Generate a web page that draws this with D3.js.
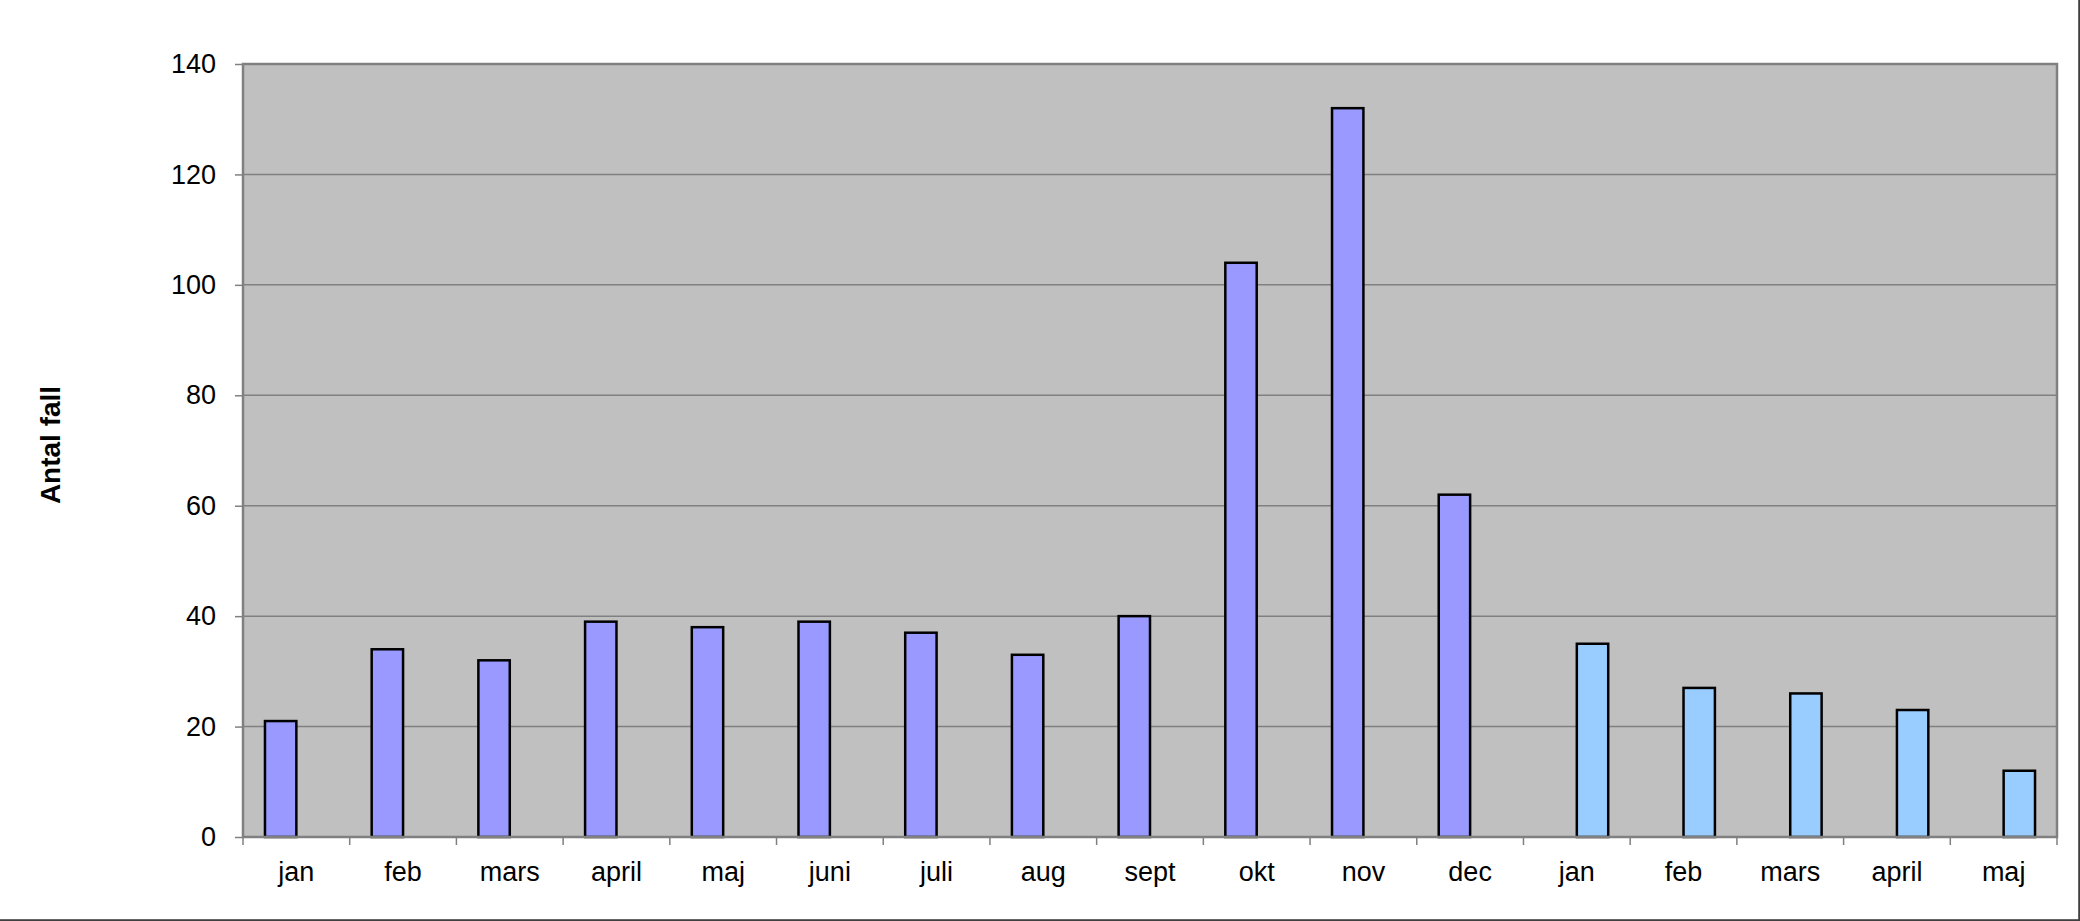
<!DOCTYPE html>
<html>
<head>
<meta charset="utf-8">
<script src="https://cdn.jsdelivr.net/npm/d3@7"></script>
<style>
  html, body { margin: 0; padding: 0; background: #fff; }
  svg { display: block; }
  text { font-family: "Liberation Sans", Arial, sans-serif; fill: #000; }
</style>
</head>
<body>
<script>
// ---- Data ----
const categories = ["jan","feb","mars","april","maj","juni","juli","aug","sept","okt","nov","dec","jan","feb","mars","april","maj"];
const series1 = [21, 34, 32, 39, 38, 39, 37, 33, 40, 104, 132, 62, null, null, null, null, null];
const series2 = [null, null, null, null, null, null, null, null, null, null, null, null, 35, 27, 26, 23, 12];
const yTicks = [0, 20, 40, 60, 80, 100, 120, 140];
const yTitle = "Antal fall";
const seriesNames = ["s1", "s2"];
const seriesColors = ["#9999FF", "#99CCFF"];

// ---- Layout ----
const W = 2080, H = 921;
const plot = { left: 243, right: 2057, top: 64, bottom: 837 };

const svg = d3.select("body").append("svg").attr("width", W).attr("height", H);

// Outer frame
svg.append("rect").attr("x", -2).attr("y", -2).attr("width", W + 1.2).attr("height", H + 1.2)
  .attr("fill", "none").attr("stroke", "#404040").attr("stroke-width", 2);

const idx = categories.map((d, i) => i);
const x = d3.scaleBand().domain(idx).range([plot.left, plot.right]).padding(0);
const xs = d3.scaleBand().domain(seriesNames).range([0, x.bandwidth()]).paddingInner(0).paddingOuter(0.7);
const y = d3.scaleLinear().domain([0, 140]).range([plot.bottom, plot.top]);

// Plot background
svg.append("rect").attr("x", plot.left).attr("y", plot.top)
  .attr("width", plot.right - plot.left).attr("height", plot.bottom - plot.top)
  .attr("fill", "#C0C0C0");

// Gridlines
svg.append("g").selectAll("line").data(yTicks.filter(t => t > 0 && t < 140)).join("line")
  .attr("x1", plot.left).attr("x2", plot.right)
  .attr("y1", d => y(d)).attr("y2", d => y(d))
  .attr("stroke", "#808080").attr("stroke-width", 1.5);

// Bars
const allSeries = [series1, series2];
allSeries.forEach((vals, si) => {
  svg.append("g").selectAll("rect").data(vals.map((v, i) => ({ v, i })).filter(d => d.v != null)).join("rect")
    .attr("x", d => x(d.i) + xs(seriesNames[si]))
    .attr("y", d => y(d.v))
    .attr("width", xs.bandwidth())
    .attr("height", d => y(0) - y(d.v))
    .attr("fill", seriesColors[si])
    .attr("stroke", "#000").attr("stroke-width", 2.5);
});

// Plot border
svg.append("rect").attr("x", plot.left).attr("y", plot.top)
  .attr("width", plot.right - plot.left).attr("height", plot.bottom - plot.top)
  .attr("fill", "none").attr("stroke", "#808080").attr("stroke-width", 2.5);

// Y axis
const yAxis = d3.axisLeft(y).tickValues(yTicks).tickSize(8).tickPadding(19).tickFormat(d3.format("d"));
const gy = svg.append("g").attr("transform", `translate(${plot.left},0)`).call(yAxis);
gy.select(".domain").remove();
gy.selectAll(".tick line").attr("stroke", "#808080").attr("stroke-width", 1.5);
gy.selectAll(".tick text").attr("font-size", 27).attr("font-family", "Liberation Sans, Arial, sans-serif").attr("fill", "#000");

// X axis ticks at category boundaries
const boundaries = d3.range(categories.length + 1).map(i => plot.left + i * x.step());
svg.append("g").selectAll("line").data(boundaries).join("line")
  .attr("x1", d => d).attr("x2", d => d)
  .attr("y1", plot.bottom).attr("y2", plot.bottom + 8)
  .attr("stroke", "#808080").attr("stroke-width", 1.5);

// X labels
svg.append("g").selectAll("text").data(idx).join("text")
  .attr("x", d => x(d) + x.bandwidth() / 2)
  .attr("y", 881)
  .attr("text-anchor", "middle")
  .attr("font-size", 27)
  .text(d => categories[d]);

// Y title
svg.append("text")
  .attr("transform", `translate(60,445) rotate(-90)`)
  .attr("text-anchor", "middle")
  .attr("font-size", 28)
  .attr("font-weight", "bold")
  .text(yTitle);
</script>
</body>
</html>
